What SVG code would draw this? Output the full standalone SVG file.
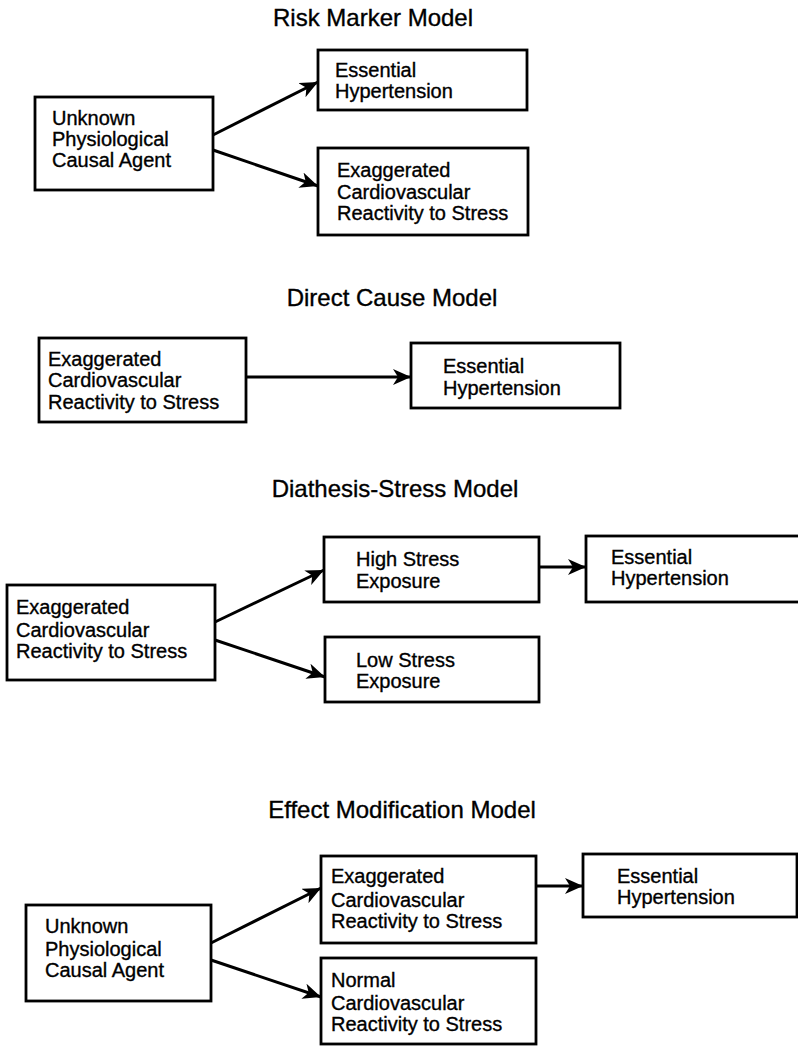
<svg xmlns="http://www.w3.org/2000/svg" width="798" height="1046" viewBox="0 0 798 1046">
<style>
.t{font-family:"Liberation Sans",Arial,sans-serif;font-size:24px;fill:#000;stroke:#000;stroke-width:0.35;text-anchor:middle}
.b{font-family:"Liberation Sans",Arial,sans-serif;font-size:20px;fill:#000;stroke:#000;stroke-width:0.35}
.box{fill:#fff;stroke:#000;stroke-width:2.8}
.c{stroke:#000;stroke-width:3;fill:none;marker-end:url(#ah)}
</style>
<defs>
<marker id="ah" markerUnits="userSpaceOnUse" markerWidth="20" markerHeight="16" refX="18" refY="8" orient="auto" viewBox="0 0 20 16">
<path d="M0,0 L18,8 L0,16 L5,8 Z" fill="#000"/>
</marker>
</defs>
<rect width="798" height="1046" fill="#fff"/>
<g id="titles">
<text class="t" x="373" y="26">Risk Marker Model</text>
<text class="t" x="392" y="306">Direct Cause Model</text>
<text class="t" x="395" y="497">Diathesis-Stress Model</text>
<text class="t" x="402" y="818">Effect Modification Model</text>
</g>
<g id="connectors">
<line class="c" x1="213" y1="135" x2="318" y2="82"/>
<line class="c" x1="213" y1="150" x2="318" y2="186"/>
<line class="c" x1="246" y1="377" x2="411" y2="377"/>
<line class="c" x1="215" y1="622" x2="324" y2="570"/>
<line class="c" x1="215" y1="640" x2="325" y2="677"/>
<line class="c" x1="539" y1="567" x2="586" y2="567"/>
<line class="c" x1="211" y1="943" x2="321" y2="888"/>
<line class="c" x1="211" y1="960" x2="321" y2="997"/>
<line class="c" x1="536" y1="886" x2="583" y2="886"/>
</g>
<g id="rm-agent"><rect class="box" x="35" y="97" width="178" height="93"/>
<text class="b" x="52" y="125">Unknown</text><text class="b" x="52" y="146">Physiological</text><text class="b" x="52" y="167">Causal Agent</text></g>
<g id="rm-eh"><rect class="box" x="318" y="50" width="209" height="60"/>
<text class="b" x="335" y="77">Essential</text><text class="b" x="335" y="98">Hypertension</text></g>
<g id="rm-ecr"><rect class="box" x="318" y="148" width="210" height="87"/>
<text class="b" x="337" y="177">Exaggerated</text><text class="b" x="337" y="199">Cardiovascular</text><text class="b" x="337" y="220">Reactivity to Stress</text></g>
<g id="dc-ecr"><rect class="box" x="39" y="338" width="207" height="84"/>
<text class="b" x="48" y="366">Exaggerated</text><text class="b" x="48" y="387">Cardiovascular</text><text class="b" x="48" y="409">Reactivity to Stress</text></g>
<g id="dc-eh"><rect class="box" x="411" y="343" width="209" height="65"/>
<text class="b" x="443" y="373">Essential</text><text class="b" x="443" y="395">Hypertension</text></g>
<g id="ds-ecr"><rect class="box" x="7" y="585" width="208" height="95"/>
<text class="b" x="16" y="614">Exaggerated</text><text class="b" x="16" y="637">Cardiovascular</text><text class="b" x="16" y="658">Reactivity to Stress</text></g>
<g id="ds-high"><rect class="box" x="324" y="537" width="215" height="65"/>
<text class="b" x="356" y="566">High Stress</text><text class="b" x="356" y="588">Exposure</text></g>
<g id="ds-eh"><rect class="box" x="586" y="536" width="220" height="66"/>
<text class="b" x="611" y="564">Essential</text><text class="b" x="611" y="585">Hypertension</text></g>
<g id="ds-low"><rect class="box" x="325" y="637" width="214" height="65"/>
<text class="b" x="356" y="667">Low Stress</text><text class="b" x="356" y="688">Exposure</text></g>
<g id="em-agent"><rect class="box" x="26" y="905" width="185" height="96"/>
<text class="b" x="45" y="933">Unknown</text><text class="b" x="45" y="956">Physiological</text><text class="b" x="45" y="977">Causal Agent</text></g>
<g id="em-ecr"><rect class="box" x="321" y="856" width="215" height="87"/>
<text class="b" x="331" y="883">Exaggerated</text><text class="b" x="331" y="907">Cardiovascular</text><text class="b" x="331" y="928">Reactivity to Stress</text></g>
<g id="em-ncr"><rect class="box" x="321" y="958" width="215" height="86"/>
<text class="b" x="331" y="987">Normal</text><text class="b" x="331" y="1010">Cardiovascular</text><text class="b" x="331" y="1031">Reactivity to Stress</text></g>
<g id="em-eh"><rect class="box" x="583" y="854" width="214" height="63"/>
<text class="b" x="617" y="883">Essential</text><text class="b" x="617" y="904">Hypertension</text></g>
</svg>
